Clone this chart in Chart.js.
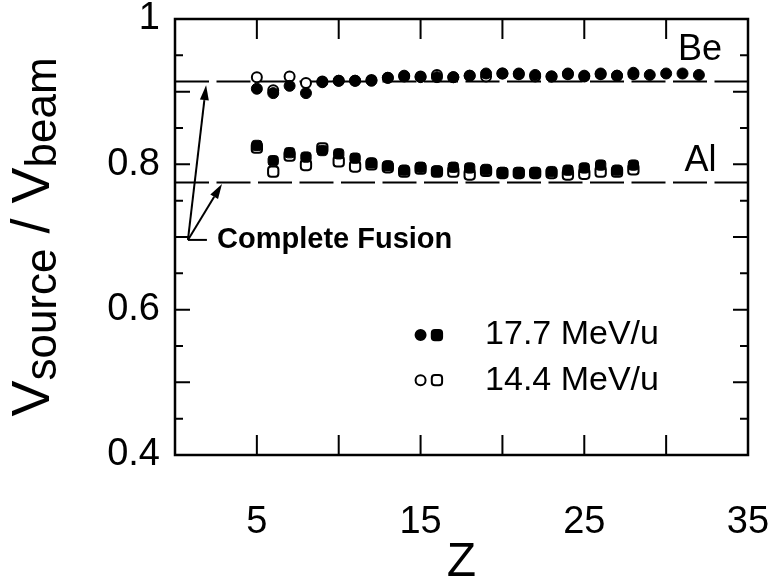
<!DOCTYPE html>
<html>
<head>
<meta charset="utf-8">
<script src="https://cdn.jsdelivr.net/npm/chart.js@4/dist/chart.umd.min.js"></script>
<style>
  html, body { margin: 0; padding: 0; background: #fff; }
</style>
</head>
<body>
<canvas id="chart" width="775" height="587"></canvas>
<script>
// Z of the fragment and Vsource/Vbeam
const zBeHigh = [5, 6, 7, 8, 9, 10, 11, 12, 13, 14, 15, 16, 17, 18, 19, 20, 21, 22, 23, 24, 25, 26, 27, 28, 29, 30, 31, 32]
const vBeHigh = [0.904, 0.898, 0.908, 0.898, 0.913, 0.915, 0.915, 0.915, 0.919, 0.922, 0.920, 0.920, 0.920, 0.922,
                 0.925, 0.925, 0.925, 0.923, 0.921, 0.925, 0.922, 0.925, 0.922, 0.926, 0.923, 0.925, 0.925, 0.923]
const zBeLow = [5, 6, 7, 8, 9, 10, 11, 12, 13, 14, 15, 16, 17, 18, 19, 20, 21, 22, 23, 24, 25, 26, 27, 28]
const vBeLow = [0.920, 0.902, 0.921, 0.912, 0.914, 0.915, 0.915, 0.916, 0.919, 0.921, 0.921, 0.923, 0.920, 0.922,
                0.921, 0.925, 0.924, 0.921, 0.921, 0.924, 0.921, 0.924, 0.922, 0.924]
const zAlHigh = [5, 6, 7, 8, 9, 10, 11, 12, 13, 14, 15, 16, 17, 18, 19, 20, 21, 22, 23, 24, 25, 26, 27, 28]
const vAlHigh = [0.826, 0.805, 0.816, 0.810, 0.819, 0.8145, 0.8085, 0.802, 0.798, 0.792, 0.796, 0.791, 0.796, 0.795,
                 0.793, 0.789, 0.789, 0.789, 0.790, 0.792, 0.795, 0.799, 0.792, 0.799]
const zAlLow = [5, 6, 7, 8, 9, 10, 11, 12, 13, 14, 15, 16, 17, 18, 19, 20, 21, 22, 23, 24, 25, 26, 27, 28]
const vAlLow = [0.823, 0.790, 0.812, 0.799, 0.822, 0.804, 0.797, 0.800, 0.796, 0.790, 0.794, 0.790, 0.790, 0.786,
                0.791, 0.788, 0.788, 0.788, 0.788, 0.786, 0.787, 0.790, 0.790, 0.793]

// complete fusion velocities
const fusionBe = 0.914
const fusionAl = 0.775

const xTickLabels = [5, 15, 25, 35]
const yTickLabels = [0.4, 0.6, 0.8, 1]
const legendLabels = ['17.7 MeV/u', '14.4 MeV/u']

const FONT = '"Liberation Sans", Arial, sans-serif'

const pts = (xs, ys) => xs.map((x, i) => ({x: x, y: ys[i]}))

// box with inward ticks on all four sides
const frame = {
  id: 'frame',
  afterDatasetsDraw(chart) {
    const {ctx, chartArea: a, scales: {x, y}} = chart
    ctx.save()
    ctx.strokeStyle = '#000'
    ctx.lineWidth = 2
    for (let z = 5; z < 35; z += 5) {
      const px = x.getPixelForValue(z)
      ctx.beginPath()
      ctx.moveTo(px, a.bottom); ctx.lineTo(px, a.bottom - 20)
      ctx.moveTo(px, a.top); ctx.lineTo(px, a.top + 20)
      ctx.stroke()
    }
    for (let k = 9; k < 20; k++) {
      const py = y.getPixelForValue(k * 0.05)
      const len = k % 2 === 0 ? 15 : 8
      ctx.beginPath()
      ctx.moveTo(a.left, py); ctx.lineTo(a.left + len, py)
      ctx.moveTo(a.right, py); ctx.lineTo(a.right - len, py)
      ctx.stroke()
    }
    ctx.lineWidth = 2.5
    ctx.strokeRect(a.left, a.top, a.right - a.left, a.bottom - a.top)
    ctx.restore()
  }
}

function arrow(ctx, x0, y0, x1, y1) {
  const ang = Math.atan2(y1 - y0, x1 - x0)
  const L = 15, W = 4.5
  ctx.beginPath()
  ctx.moveTo(x0, y0)
  ctx.lineTo(x1 - L * Math.cos(ang), y1 - L * Math.sin(ang))
  ctx.stroke()
  ctx.beginPath()
  ctx.moveTo(x1, y1)
  ctx.lineTo(x1 - L * Math.cos(ang) + W * Math.sin(ang), y1 - L * Math.sin(ang) - W * Math.cos(ang))
  ctx.lineTo(x1 - L * Math.cos(ang) - W * Math.sin(ang), y1 - L * Math.sin(ang) + W * Math.cos(ang))
  ctx.closePath()
  ctx.fill()
}

const notes = {
  id: 'notes',
  afterDraw(chart) {
    const {ctx, chartArea: a, scales: {x, y}} = chart
    ctx.save()
    ctx.fillStyle = '#000'
    ctx.strokeStyle = '#000'
    ctx.lineWidth = 2

    // complete fusion arrows
    const vx = x.getPixelForValue(0.79), vy = y.getPixelForValue(0.696)
    arrow(ctx, vx, vy, x.getPixelForValue(1.9), y.getPixelForValue(0.909))
    arrow(ctx, vx, vy, x.getPixelForValue(2.87), y.getPixelForValue(0.773))
    ctx.beginPath()
    ctx.moveTo(vx, vy); ctx.lineTo(x.getPixelForValue(1.95), vy)
    ctx.stroke()
    ctx.font = 'bold 29px ' + FONT
    ctx.textAlign = 'left'
    ctx.textBaseline = 'middle'
    ctx.fillText('Complete Fusion', x.getPixelForValue(2.57), vy)

    ctx.font = '36px ' + FONT
    ctx.textAlign = 'center'
    ctx.fillText('Be', x.getPixelForValue(32.07), y.getPixelForValue(0.957))
    ctx.fillText('Al', x.getPixelForValue(32.1), y.getPixelForValue(0.805))

    // legend: circle + square, then label
    const rows = [0.565, 0.503]
    rows.forEach((v, i) => {
      const py = y.getPixelForValue(v)
      const fill = i === 0 ? '#000' : '#fff'
      ctx.fillStyle = fill
      Chart.helpers.drawPoint(ctx, {pointStyle: 'circle', radius: 5, rotation: 0, borderWidth: 2}, x.getPixelForValue(15), py)
      ctx.fillStyle = fill
      Chart.helpers.drawPoint(ctx, {pointStyle: 'rectRounded', radius: 6, rotation: 0, borderWidth: 2}, x.getPixelForValue(16), py)
      ctx.fillStyle = '#000'
      ctx.font = '34px ' + FONT
      ctx.textAlign = 'left'
      ctx.fillText(legendLabels[i], x.getPixelForValue(18.94), py)
    })

    // y title with subscripts
    const parts = [['V', 54, 0], ['source', 44, 7], [' / ', 54, 0], ['V', 54, 0], ['beam', 44, 7]]
    ctx.translate(49, (a.top + a.bottom) / 2)
    ctx.rotate(-Math.PI / 2)
    ctx.textAlign = 'left'
    ctx.textBaseline = 'alphabetic'
    let total = 0
    parts.forEach(p => { ctx.font = p[1] + 'px ' + FONT; total += ctx.measureText(p[0]).width })
    let cx = -total / 2
    parts.forEach(p => {
      ctx.font = p[1] + 'px ' + FONT
      ctx.fillText(p[0], cx, p[2])
      cx += ctx.measureText(p[0]).width
    })
    ctx.restore()
  }
}

new Chart(document.getElementById('chart'), {
  type: 'scatter',
  data: {
    datasets: [
      {label: 'Be 17.7 MeV/u', data: pts(zBeHigh, vBeHigh), pointStyle: 'circle', pointRadius: 5.5,
       backgroundColor: '#000', borderColor: '#000', borderWidth: 1},
      {label: 'Al 17.7 MeV/u', data: pts(zAlHigh, vAlHigh), pointStyle: 'rectRounded', pointRadius: 6,
       backgroundColor: '#000', borderColor: '#000', borderWidth: 1},
      {label: 'Be 14.4 MeV/u', data: pts(zBeLow, vBeLow), pointStyle: 'circle', pointRadius: 5,
       backgroundColor: '#fff', borderColor: '#000', borderWidth: 2},
      {label: 'Al 14.4 MeV/u', data: pts(zAlLow, vAlLow), pointStyle: 'rectRounded', pointRadius: 6,
       backgroundColor: '#fff', borderColor: '#000', borderWidth: 2},
      {label: 'Be complete fusion', data: [{x: 0, y: fusionBe}, {x: 35, y: fusionBe}], showLine: true,
       borderColor: '#000', borderWidth: 2, borderDash: [34, 7.5], pointRadius: 0},
      {label: 'Al complete fusion', data: [{x: 0, y: fusionAl}, {x: 35, y: fusionAl}], showLine: true,
       borderColor: '#000', borderWidth: 2, borderDash: [34, 7.5], pointRadius: 0}
    ]
  },
  options: {
    responsive: false,
    animation: false,
    layout: {padding: {top: 19, right: 27, left: 0, bottom: 0}},
    plugins: {legend: {display: false}, tooltip: {enabled: false}},
    scales: {
      x: {
        type: 'linear', min: 0, max: 35,
        afterBuildTicks: s => { s.ticks = xTickLabels.map(v => ({value: v})) },
        afterFit: s => { s.height = 132; s.paddingLeft = 0; s.paddingRight = 0 },
        grid: {display: false, drawTicks: false},
        border: {display: false},
        ticks: {color: '#000', font: {family: FONT, size: 38}, padding: 45, autoSkip: false, maxRotation: 0},
        title: {display: true, text: 'Z', color: '#000', font: {family: FONT, size: 48, lineHeight: 1}, padding: 0}
      },
      y: {
        type: 'linear', min: 0.4, max: 1,
        afterBuildTicks: s => { s.ticks = yTickLabels.map(v => ({value: v})) },
        afterFit: s => { s.width = 175; s.paddingTop = 0; s.paddingBottom = 0 },
        grid: {display: false, drawTicks: false},
        border: {display: false},
        ticks: {color: '#000', font: {family: FONT, size: 38}, padding: 15, autoSkip: false,
                callback: v => v === 1 ? '1' : v.toFixed(1)}
      }
    }
  },
  plugins: [frame, notes]
})
</script>
</body>
</html>
